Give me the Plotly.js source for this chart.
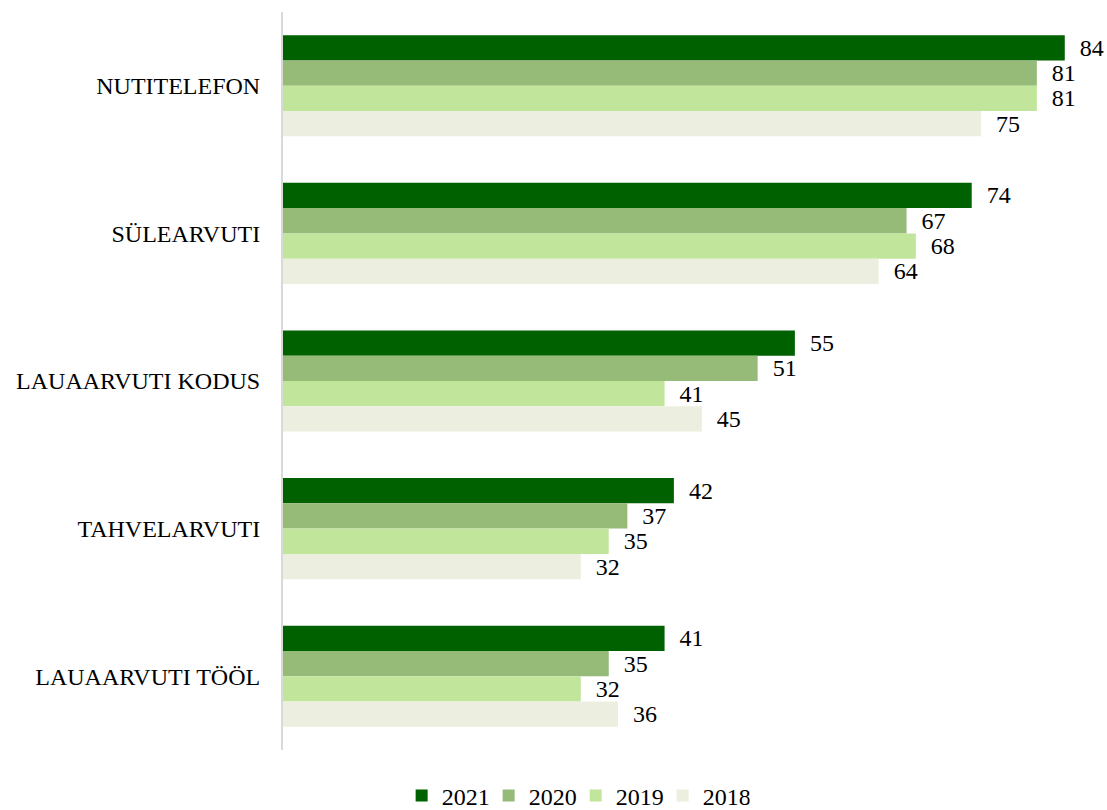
<!DOCTYPE html>
<html>
<head>
<meta charset="utf-8">
<script src="https://cdn.plot.ly/plotly-3.0.1.min.js"></script>
<style>html,body{margin:0;padding:0;background:#fff;}#chart{width:1107px;height:810px;}</style>
</head>
<body>
<div id="chart"></div>
<script>
const categories = ["NUTITELEFON", "SÜLEARVUTI", "LAUAARVUTI KODUS", "TAHVELARVUTI", "LAUAARVUTI TÖÖL"];
const years = ["2021", "2020", "2019", "2018"];
const values2021 = [84, 74, 55, 42, 41];
const values2020 = [81, 67, 51, 37, 35];
const values2019 = [81, 68, 41, 35, 32];
const values2018 = [75, 64, 45, 32, 36];
const colors = ["#006100", "#96BA78", "#C2E59C", "#ECEFDF"];
const series = [values2021, values2020, values2019, values2018];

const font = "Liberation Serif";
const traces = series.map((vals, i) => ({
  type: "bar",
  orientation: "h",
  name: years[i],
  y: categories,
  x: vals,
  marker: {color: colors[i]},
  text: vals.map(v => "\u00a0\u00a0" + v),
  textposition: "outside",
  textfont: {family: font, size: 24, color: "#000"},
  constraintext: "none",
  cliponaxis: false,
  hoverinfo: "x+name"
}));

const layout = {
  width: 1107,
  height: 810,
  margin: {l: 283, r: 5, t: 12, b: 60},
  paper_bgcolor: "#fff",
  plot_bgcolor: "#fff",
  barmode: "group",
  bargap: 0.315,
  bargroupgap: 0,
  font: {family: font, size: 24, color: "#000"},
  xaxis: {range: [0, 88], showgrid: false, zeroline: false, showticklabels: false, showline: false, ticks: ""},
  yaxis: {autorange: "reversed", showline: true, linecolor: "#d9d9d9", linewidth: 2, ticks: "", showgrid: false,
          ticklabelstandoff: 16, automargin: false,
          tickfont: {family: font, size: 24, color: "#000"}},
  showlegend: true,
  legend: {orientation: "h", xref: "container", yref: "container", x: 0.52, xanchor: "center", y: 0.0173, yanchor: "middle",
           entrywidth: 42, entrywidthmode: "pixels",
           font: {family: font, size: 24, color: "#000"}, traceorder: "normal"}
};

Plotly.newPlot("chart", traces, layout, {displayModeBar: false});
</script>
</body>
</html>
